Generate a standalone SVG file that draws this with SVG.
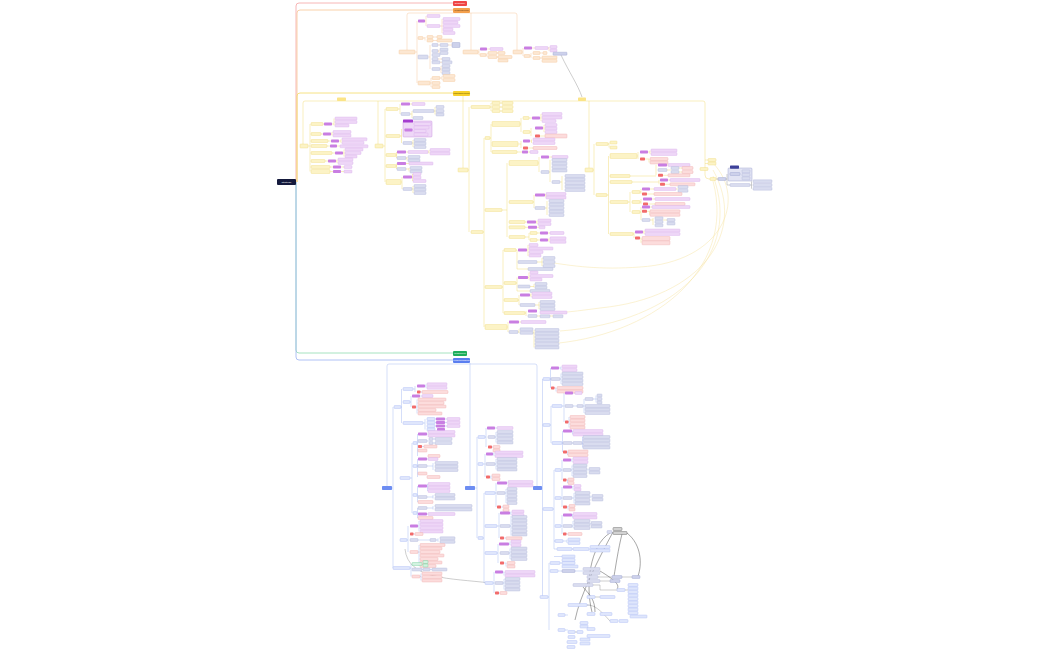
<svg xmlns="http://www.w3.org/2000/svg" width="1050" height="650" viewBox="0 0 1050 650">
<style>
.P,.PL,.G,.GM,.R,.RL,.O,.Y,.B,.GR,.DG{height:3px;rx:.7px;ry:.7px;stroke-width:.35}
.h4{height:4px}.h5{height:5px}
.P{fill:#c97ee2}.PL{fill:#eed6f7;stroke:#d6aceb}.G{fill:#d9dcef;stroke:#aab0d6}.GM{fill:#cdd1eb;stroke:#8f97c8}
.R{fill:#f26b6b}.RL{fill:#fcdcdc;stroke:#efa6a6}.O{fill:#fce7d2;stroke:#f3be8b}.Y{fill:#fcf3c6;stroke:#eed670}
.B{fill:#dfe6fc;stroke:#a3b5f2}.GR{fill:#d2f2e0;stroke:#5fca8e}.DG{fill:#d2d2d2;stroke:#444}
.c{fill:none;stroke-width:.5}.co{stroke:#f6c9a0}.cy{stroke:#f2dc7c}.cb{stroke:#abbdf3}.cg{stroke:#9c9c9c}.ck{stroke:#3a3a3a;stroke-width:.45}.cyl{stroke:#f6e39c;stroke-width:.45}
.tr{fill:none;stroke-width:.8}
.t{font-family:"Liberation Sans",Arial,sans-serif;font-size:2.5px;text-anchor:middle;fill:#fff}
</style>
<rect width="1050" height="650" fill="#fff"/>
<g id="connectors">
<path class="tr" stroke="#f5a3a3" d="M296,182V6Q296,3 299,3H453"/>
<path class="tr" stroke="#f7c594" d="M297,182V13Q297,10 300,10H453"/>
<path class="tr" stroke="#f4da66" d="M297,182V96Q297,93 300,93H453"/>
<path class="tr" stroke="#8fdcb0" d="M296,182V350Q296,353 299,353H453"/>
<path class="tr" stroke="#9cb3f3" d="M296,182V357Q296,360 299,360H453"/>
<path class="c co" d="M407,50V15Q407,13 409,13H515Q517,13 517,15V50M471,13V50"/>
<path class="c co" d="M415,52H417M417,21V83M425,21H426M426,16V26M440,26H442M442,19V33M423,38H425M425,37V40.5M433,37H437M433,40.5H437M428,57H430M430,45V69M438,45H440M448,45H452M438,51H439M439,49.5V53M438,59H442M440,62.3H442M440,69H441M441,66V73M430,83H431M431,78V87M440,78H442M442,76V80M478,52H479M479,49V55M487,49H490M486,55H487M487,53V57M497,53H498M497,57H498M522,52H523M523,48V56M532,48H535M548,48H549M549,47V51M530,56H531M531,53V58M540,53H543M540,58H542"/>
<path class="c cg" d="M561,55C569,72 578,85 582,97"/>
<path class="c cy" d="M303,144V103Q303,101 305,101H703Q705,101 705,103V175Q705,179 709,179H710M378,101V144M463,96V168M589,101V168M705,160H708M705,163.5H708M704,169H705"/>
<path class="c cy" d="M308,146H310M310,124V171.5M323,124H324M332,124H334M334,118.5V125.5M321,134H323M331,134H332M332,132V135.5M328,141H331M339,141H341M341,139.3V142.8M327,146H330M337,146H340M332,153H335M343,153H344M344,149.5V156.5M325,161H328M336,161H337M337,159.5V163M330,167H333M341,167H344M330,171.5H333M341,171.5H344"/>
<path class="c cy" d="M383,146H385M385,109V182M398,109H400M400,104V114M410,104H412M410,114H412M412,111V118M434,111H435M435,107V114.5M400,136H401.5M401.5,129V143M412.5,130H413.5M413.5,124V134.5M412,143H413M413,140V147M396,155H396.5M396.5,152V158M406,152H408M428,152H429M429,150V153.5M406,158H407M407,157V160.5M396,166H396.5M396.5,163.5V169M406,163.5H409M406,169H409M409,168V171.5M401,182H402M402,177V189M412,177H412.5M412.5,174V181M412,189H413M413,186V193"/>
<path class="c cy" d="M468,170H469M469,107V232M490,107H491M491,103V111M500,103H502M500,107H502M500,111H502M483,232H484M484,138V327M490,138H491M491,124V152M520,124H521M521,118V132M529,118H532M540,118H541M541,114V121M530,132H531M531,128V136M543,128H544M544,125V132M540,136H545M518,144H521M521,141V148M530,141H531.5M531.5,139.5V143M528,148H533M517,152H522M528,152H530M502,210H507M507,163V237M538,163H539M539,157V172M549,157H552M549,172H550M550,160V182M560,182H562M562,176V190M533,202H534M534,195V208M545,195H546M546,194V197.5M545,208H547M547,201V215M525,222H527M536,222H537M537,220.5V224M525,227.3H528M537,227.3H539M525,237H529M529,233V240M537,233H540M548,233H550M537,240H540M548,240H549M549,238.3V241.8M502,287H503M503,250V313M516,250H517M517,250V269H528M527,250H528M528,245V256M537,262H542M542,258V266M516,283H517M517,277.5V291H530M528,277.5H529M529,272.5V279.5M530,286.5H534M534,284V287.5M518,300H519M519,295V305M530,295H531M531,293.5V297M535,305H539M539,302V309M525,313H526M526,311V316M537,316H540M550,316H553M507,327H508M508,322V332M519,322H521M518,332H519M519,329.3V332.8M533,332.8H534M534,330V347.5"/>
<path class="c cy" d="M593,170H594M594,144V195M608,144H609M609,142.5V147.5M607,195H608.5M608.5,156V234M637,156H638M638,152V159M648,152H650M650,150.5V154M645,159H649M649,159V162.5M630,176H656M656,165V175.3M667,165H668M667,170H671M679,168H682M679,172H682M663,175.3H668M632,182H659M659,180V184.3M668,180H670M665,184.3H670M628,202H630M630,192V212M640,192H641M641,189V194M650,189H654M647,194H654M676,189H678M640,202H641M641,199V204M652,199H655M648,204H655M640,212H641M641,207V220M650,207H652M647,211.3H649.5M649.5,211.3V214.8M650,220H653M653,218V225M663,220H667M633,234H634M634,232V238M643,232H644M644,230.5V234M640,238H641M641,238V242.8"/>
<path class="c cg" d="M716,179H718M726,179H727M727,174V185H730M740,174H741M741,171.3V178.3M750,185H751.5M751.5,181.3V188.7"/>
<path class="c cyl" d="M713,163C748,200 722,262 640,267C600,270 572,266 548,262M713,170C748,232 702,298 600,308C585,310 570,312 556,313M713,176C742,252 680,322 560,331M713,181C737,272 650,337 548,344"/>
<path class="c cb" d="M387,486V366Q387,364 389,364H535Q537,364 537,366V486M470,363V486"/>
<path class="c cb" d="M392,488H393M393,407V568M401,407H401.5M401.5,389V423M413,389H415M415,386V392M425,386H426M426,384.3V387.8M420.5,392H422M410,402H411M411,396V407M420,396H422M416,407H417M417,399.5V413.5M423,423H425M425,419V429.5M435,419H436M435,422.5H436M435,426H436M445,419H447M445,422.5H447M445,426H447M410,478H412M412,443V513M417,443H417.5M417.5,434V456M427,434H428M427,441H429M433,439H435M433,443H435M422,446.5H424M417,466H417.5M417.5,459V477M427,459H428M427,466H433M433,463V470M417,495H417.5M417.5,486V502M427,486H427.5M427.5,484V491M427,497H433M433,495V498.5M417,513H417.5M417.5,508V518M427,508H433M433,506V509.5M427,514H428M407,540H408M408,526V552M418,526H419M419,521V531.5M413.5,534H415M418,540H430M436,540H438M438,538.3V541.8M418,552H419M419,545V566M410,568H411M411,564V576.5M422,564H423M422,569.5H432M420,576.5H421M421,573.5V580.5"/>
<path class="c cg" d="M405,549C408,580 450,578 490,583"/>
<path class="c cb" d="M475,488H477M477,437V538M485,437H486M486,428V447M495,428H497M495,437H496M496,432V442.5M492,447H493M483,464H485M485,454V477M493,454H494M494,452.5V456M495,464H496M496,459V469.5M490,477H491M491,475.5V479M483,538H484M484,493V583M495,493H496M496,483V507M507,483H508M505,493H506M506,489V503M501,507H503M497,526H499M499,513V538M510,513H511M511,511.5V515M510,526H511M511,516V535.5M504,538H506M497,553H498M498,544V563M509,544H510M510,541.5V545M509,553H510M510,548.5V559M504,563H506M506,563V566.5M493,583H494M494,572V593M503,572H504M504,572V575.5M503,583H504M504,579V589.5M499,593H500"/>
<path class="c cb" d="M542,488H542.5M542.5,379V597M550,379H550.5M550.5,368V388M559,368H561M561,366.5V370M560,379H561M561,373.5V384M554.5,388H556M556,388V391.5M550,425H551M551,406V443M562,406H564M564,393V422M573,393H575M573,406H577M583,406H584M584,399V413M593,399H596M596,395.5V402.5M568.5,422H569M569,417V427.5M562,443H562.5M562.5,431V452M572,431H572.5M572.5,431V434.5M572,443H573M582,443H582.5M582.5,437V447.5M567,452H567.5M567.5,451.5V455M553,509H554M554,470V549M561,470H562M562,460V480M571,460H572M572,458.5V462M571,470H572M572,465.5V476M587,470H589M566.5,480H567.5M567.5,479.5V483M561,498H562M562,487V507M572,487H573M573,486V489.5M572,498H574M574,493V503.5M590,497H592M567,507H568M568,506V509.5M561,526H562M562,515V534M572,515H572.5M572.5,514V517.5M572,526H573M573,521V528M590,524H591M566.5,534H568M554,541H555M563,541H567M567,539.5V543M554,549H557M572,549H573M589,549H590M554,556.5H562M548,597H549M549,563V630M560,563H562M558,571H562M575,571H583M565,615H568M565,630H568M587,605H590"/>
<path class="c cg" d="M598,577H612M600,581H610M622,577H632M593,585H600V590H617M625,590H628M595,597H600M587,605C595,605 600,610 610,621M575,632H577"/>
<path class="c ck" d="M613,532C598,560 580,595 575,620M610,533C590,545 585,585 592,612M627,533C642,545 642,565 638,576M622,534C618,550 616,565 614,576M600,571C615,580 620,585 617,589M583,587C590,595 595,600 595,612"/>
</g>
<g id="root"><rect x="277" y="179" width="19" height="6" rx="1" fill="#151a3d"/><text class="t" x="286.5" y="182.9">Strategie</text></g>
<g id="top-red"><rect x="453" y="1" width="14" height="5" rx="1" fill="#ef4545"/><text class="t" x="460" y="4.4" style="font-size:2.2px">Zielgruppe</text></g>
<g id="top-orange"><rect x="453" y="8" width="17" height="5" rx="1" fill="#f4a04c"/><text class="t" x="461.5" y="11.4" style="font-size:2.2px;fill:#5a3510">Positionierung</text></g>
<g id="top-yellow"><rect x="453" y="91" width="17" height="5" rx="1" fill="#f7d12c"/><text class="t" x="461.5" y="94.4" style="font-size:2.2px;fill:#5a4a00">Maßnahmenplan</text></g>
<g id="top-green"><rect x="453" y="351" width="14" height="5" rx="1" fill="#1fae5c"/><text class="t" x="460" y="354.4" style="font-size:2.2px">Ressourcen</text></g>
<g id="top-blue"><rect x="453" y="358" width="17" height="5" rx="1" fill="#5a7ef0"/><text class="t" x="461.5" y="361.4" style="font-size:2.2px">Umsetzungsplan</text></g>
<g id="orange-nodes">
<g id="oA"><rect class="O h4" x="399" y="50" width="16"/></g>
<g id="oB"><rect class="O h4" x="463" y="50" width="15"/></g>
<g id="oC"><rect class="O h4" x="513" y="50" width="9"/></g>
<g id="oA1"><rect class="P" x="418" y="19.5" width="7"/><rect class="PL" x="427" y="14.5" width="13"/><rect class="PL" x="427" y="24.5" width="13"/><rect class="PL" x="443" y="17.5" width="17"/><rect class="PL" x="443" y="21" width="15"/><rect class="PL" x="443" y="24.5" width="17"/><rect class="PL" x="443" y="28" width="10"/><rect class="PL" x="443" y="31.5" width="12"/></g>
<g id="oA2"><rect class="O" x="418" y="36.5" width="5"/><rect class="O" x="427" y="35.5" width="6"/><rect class="O" x="427" y="39" width="6"/><rect class="O" x="437" y="35.5" width="5"/><rect class="O" x="437" y="39" width="15"/></g>
<g id="oA3"><rect class="G h4" x="418" y="55" width="10"/><rect class="G" x="432" y="43.5" width="6"/><rect class="G" x="432" y="49.5" width="6"/><rect class="G" x="432" y="53.5" width="8"/><rect class="G" x="432" y="57.5" width="6"/><rect class="G" x="432" y="60.8" width="8"/><rect class="G" x="432" y="67.5" width="8"/><rect class="G" x="440" y="43.5" width="8"/><rect class="GM h5" x="452" y="42.5" width="8"/><rect class="G" x="440" y="48" width="8"/><rect class="G" x="440" y="51.5" width="8"/><rect class="G" x="442" y="57.5" width="8"/><rect class="G" x="442" y="60.8" width="10"/><rect class="G" x="442" y="64.5" width="8"/><rect class="G" x="442" y="68" width="8"/><rect class="G" x="442" y="71.5" width="8"/></g>
<g id="oA4"><rect class="O h4" x="418" y="81" width="12"/><rect class="O" x="432" y="76.5" width="8"/><rect class="O" x="432" y="81.5" width="8"/><rect class="O" x="432" y="85.5" width="8"/><rect class="O" x="443" y="74.5" width="12"/><rect class="O" x="443" y="78.5" width="12"/></g>
<g id="oB1"><rect class="P" x="480" y="47.5" width="7"/><rect class="PL" x="490" y="47.5" width="13"/><rect class="O" x="480" y="53.5" width="6"/><rect class="O" x="488" y="51.5" width="9"/><rect class="O" x="488" y="55.5" width="9"/><rect class="O" x="498" y="51.5" width="7"/><rect class="O" x="498" y="55.5" width="14"/><rect class="O" x="498" y="59" width="10"/></g>
<g id="oC1"><rect class="P" x="524" y="46.5" width="8"/><rect class="PL" x="535" y="46.5" width="13"/><rect class="PL" x="550" y="45.5" width="7"/><rect class="PL" x="550" y="49" width="7"/><rect class="O" x="524" y="54.5" width="6"/><rect class="O" x="533" y="51.5" width="7"/><rect class="O" x="533" y="56.5" width="7"/><rect class="O" x="543" y="51.5" width="4"/><rect class="O" x="542" y="56" width="15"/><rect class="O" x="542" y="59.3" width="15"/></g>
<g id="oGray"><rect class="GM" x="553" y="52.2" width="14"/></g>
</g>
<g id="yellow-nodes">
<g id="yTagA"><rect x="337" y="97.5" width="9" height="3.5" rx=".7" fill="#fbe487"/></g>
<g id="yTagB"><rect x="578" y="97.5" width="8" height="3.5" rx=".7" fill="#fbe487"/></g>
<g id="yL1"><rect class="Y h4" x="300" y="144" width="8"/></g>
<g id="yL1c"><rect class="Y" x="311" y="122.5" width="12"/><rect class="P" x="324" y="122.5" width="8"/><rect class="PL" x="335" y="117" width="22"/><rect class="PL" x="335" y="120.5" width="22"/><rect class="PL" x="335" y="124" width="14"/>
<rect class="Y" x="311" y="132.5" width="10"/><rect class="P" x="323" y="132.5" width="8"/><rect class="PL" x="333" y="130.5" width="18"/><rect class="PL" x="333" y="134" width="18"/>
<rect class="Y" x="311" y="139.5" width="17"/><rect class="P" x="331" y="139.5" width="8"/><rect class="PL" x="342" y="137.8" width="25"/><rect class="PL" x="342" y="141.3" width="22"/>
<rect class="Y" x="311" y="144.5" width="16"/><rect class="P" x="330" y="144.5" width="7"/><rect class="PL" x="340" y="144.8" width="28"/>
<rect class="Y" x="311" y="151.5" width="21"/><rect class="P" x="335" y="151.5" width="8"/><rect class="PL" x="345" y="148" width="18"/><rect class="PL" x="345" y="151.5" width="16"/><rect class="PL" x="345" y="155" width="12"/>
<rect class="Y" x="311" y="159.5" width="14"/><rect class="P" x="328" y="159.5" width="8"/><rect class="PL" x="338" y="158" width="15"/><rect class="PL" x="338" y="161.5" width="15"/>
<rect class="Y" x="311" y="165.5" width="19"/><rect class="P" x="333" y="165.5" width="8"/><rect class="PL" x="344" y="165.5" width="8"/>
<rect class="Y h4" x="311" y="169.5" width="19"/><rect class="P" x="333" y="170" width="8"/><rect class="PL" x="344" y="170" width="8"/></g>
<g id="yL2"><rect class="Y h4" x="375" y="144" width="8"/></g>
<g id="yL2c"><rect class="Y" x="386" y="107.5" width="12"/><rect class="P" x="401" y="102.5" width="9"/><rect class="PL" x="412" y="102.5" width="13"/><rect class="G" x="401" y="112.5" width="9"/><rect class="G" x="413" y="109.5" width="21"/><rect class="G" x="413" y="116.5" width="10"/><rect class="G" x="436" y="105.5" width="8"/><rect class="G" x="436" y="109.5" width="8"/><rect class="G" x="436" y="113" width="8"/>
<rect class="Y" x="386" y="134.5" width="14"/>
<rect x="403" y="121" width="29" height="16" rx="1" fill="#eed7f7" stroke="#c083dc" stroke-width=".4"/><rect x="403" y="119.5" width="10" height="3" rx=".6" fill="#a43ccf"/>
<rect class="P" x="404.5" y="128.5" width="8"/><rect class="PL" x="414" y="122.5" width="17"/><rect class="PL" x="414" y="126" width="15"/><rect class="PL" x="414" y="129.5" width="12"/><rect class="PL" x="414" y="133" width="14"/>
<rect class="G" x="403" y="141.5" width="9"/><rect class="G" x="414" y="138.5" width="12"/><rect class="G" x="414" y="142" width="12"/><rect class="G" x="414" y="145.5" width="12"/>
<rect class="Y" x="386" y="153.5" width="10"/><rect class="P" x="397" y="150.5" width="9"/><rect class="PL" x="408" y="150.5" width="20"/><rect class="PL" x="430" y="148.5" width="20"/><rect class="PL" x="430" y="152" width="20"/><rect class="G" x="397" y="156.5" width="9"/><rect class="G" x="408" y="155.5" width="12"/><rect class="G" x="408" y="159" width="12"/>
<rect class="Y" x="386" y="164.5" width="10"/><rect class="P" x="397" y="162" width="9"/><rect class="PL" x="409" y="162" width="24"/><rect class="G" x="397" y="167.5" width="9"/><rect class="G" x="410" y="166.5" width="12"/><rect class="G" x="410" y="170" width="12"/>
<rect class="Y h5" x="386" y="179.5" width="15"/><rect class="P" x="403" y="175.5" width="9"/><rect class="PL" x="413" y="172.5" width="8"/><rect class="PL" x="413" y="176" width="8"/><rect class="PL" x="413" y="179.5" width="13"/><rect class="G" x="403" y="187.5" width="9"/><rect class="G" x="414" y="184.5" width="12"/><rect class="G" x="414" y="188" width="12"/><rect class="G" x="414" y="191.5" width="12"/></g>
<g id="yL3"><rect class="Y h4" x="458" y="168" width="10"/></g>
<g id="yL3a"><rect class="Y" x="471" y="105.5" width="19"/><rect class="Y" x="492" y="101.5" width="8"/><rect class="Y" x="492" y="105.5" width="8"/><rect class="Y" x="492" y="109.5" width="8"/><rect class="Y" x="502" y="101.5" width="11"/><rect class="Y" x="502" y="105.5" width="11"/><rect class="Y" x="502" y="109.5" width="11"/>
<rect class="Y" x="471" y="230.5" width="12"/></g>
<g id="yL3u1"><rect class="Y" x="485" y="136.5" width="5"/><rect class="Y h5" x="492" y="121.5" width="28"/><rect class="Y" x="523" y="116.5" width="6"/><rect class="P" x="532" y="116.5" width="8"/><rect class="PL" x="542" y="112.5" width="20"/><rect class="PL" x="542" y="116" width="20"/><rect class="PL" x="542" y="119.5" width="14"/><rect class="Y" x="523" y="130.5" width="7"/><rect class="P" x="535" y="126.5" width="8"/><rect class="PL" x="545" y="123.5" width="12"/><rect class="PL" x="545" y="127" width="12"/><rect class="PL" x="545" y="130.5" width="12"/><rect class="R" x="535" y="134.5" width="5"/><rect class="RL h4" x="545" y="134" width="22"/>
<rect class="Y h5" x="492" y="141.5" width="26"/><rect class="P" x="523" y="139.5" width="7"/><rect class="PL" x="533" y="138" width="22"/><rect class="PL" x="533" y="141.5" width="22"/><rect class="R" x="523" y="146.5" width="5"/><rect class="RL" x="533" y="146.5" width="24"/>
<rect class="Y" x="492" y="150.5" width="25"/><rect class="P" x="522" y="150.5" width="6"/><rect class="PL" x="530" y="150.5" width="8"/></g>
<g id="yL3u2"><rect class="Y" x="485" y="208.5" width="17"/><rect class="Y h5" x="509" y="160.5" width="29"/><rect class="P" x="541" y="155.5" width="8"/><rect class="PL" x="552" y="155.5" width="16"/><rect class="G" x="541" y="170.5" width="8"/><rect class="G" x="552" y="158.5" width="15"/><rect class="G" x="552" y="162" width="15"/><rect class="G" x="552" y="165.5" width="15"/><rect class="G" x="552" y="169" width="15"/><rect class="G" x="552" y="180.5" width="8"/><rect class="G" x="565" y="174.5" width="20"/><rect class="G" x="565" y="178" width="20"/><rect class="G" x="565" y="181.5" width="20"/><rect class="G" x="565" y="185" width="20"/><rect class="G" x="565" y="188.5" width="20"/>
<rect class="Y" x="509" y="200.5" width="24"/><rect class="P" x="535" y="193.5" width="10"/><rect class="PL" x="546" y="192.5" width="20"/><rect class="PL" x="546" y="196" width="20"/><rect class="G" x="535" y="206.5" width="10"/><rect class="G" x="549" y="199.5" width="15"/><rect class="G" x="549" y="203" width="15"/><rect class="G" x="549" y="206.5" width="15"/><rect class="G" x="549" y="210" width="15"/><rect class="G" x="549" y="213.5" width="15"/>
<rect class="Y" x="509" y="220.5" width="16"/><rect class="P" x="527" y="220.5" width="9"/><rect class="PL" x="538" y="219" width="13"/><rect class="PL" x="538" y="222.5" width="13"/>
<rect class="Y" x="509" y="225.8" width="16"/><rect class="P" x="528" y="225.8" width="9"/><rect class="PL" x="539" y="225.8" width="6"/>
<rect class="Y" x="509" y="235.5" width="16"/><rect class="Y" x="530" y="231.5" width="7"/><rect class="P" x="540" y="231.5" width="8"/><rect class="PL" x="550" y="231.5" width="14"/><rect class="Y" x="530" y="238.5" width="7"/><rect class="P" x="540" y="238.5" width="8"/><rect class="PL" x="550" y="236.8" width="16"/><rect class="PL" x="550" y="240.3" width="16"/></g>
<g id="yL3u3"><rect class="Y" x="485" y="285.5" width="17"/><rect class="Y" x="504" y="248.5" width="12"/><rect class="P" x="518" y="248.5" width="9"/><rect class="PL" x="529" y="243.5" width="9"/><rect class="PL" x="529" y="247" width="24"/><rect class="PL" x="529" y="250.5" width="14"/><rect class="PL" x="529" y="254" width="12"/><rect class="G" x="518" y="260.5" width="19"/><rect class="G" x="543" y="256.5" width="12"/><rect class="G" x="543" y="260.5" width="12"/><rect class="G" x="543" y="264.5" width="12"/><rect class="G" x="528" y="267.5" width="25"/>
<rect class="Y" x="504" y="281.5" width="12"/><rect class="P" x="518" y="276" width="10"/><rect class="PL" x="530" y="271" width="8"/><rect class="PL" x="530" y="274.5" width="23"/><rect class="PL" x="530" y="278" width="12"/><rect class="G" x="518" y="285" width="12"/><rect class="G" x="535" y="282.5" width="12"/><rect class="G" x="535" y="286" width="12"/><rect class="G" x="530" y="289.5" width="20"/>
<rect class="Y" x="504" y="298.5" width="14"/><rect class="P" x="520" y="293.5" width="10"/><rect class="PL" x="532" y="292" width="20"/><rect class="PL" x="532" y="295.5" width="20"/><rect class="G" x="520" y="303.5" width="15"/><rect class="G" x="540" y="300.5" width="15"/><rect class="G" x="540" y="304" width="15"/><rect class="G" x="540" y="307.5" width="15"/>
<rect class="Y" x="504" y="311.5" width="21"/><rect class="P" x="528" y="309.5" width="9"/><rect class="PL" x="540" y="311" width="27"/><rect class="G" x="528" y="314.5" width="9"/><rect class="G" x="540" y="314.8" width="10"/><rect class="G" x="553" y="314.8" width="10"/></g>
<g id="yL3u4"><rect class="Y h5" x="485" y="324.5" width="22"/><rect class="P" x="509" y="320.5" width="10"/><rect class="PL" x="521" y="320.5" width="25"/><rect class="G" x="509" y="330.5" width="9"/><rect class="G" x="520" y="327.8" width="13"/><rect class="G" x="520" y="331.3" width="13"/><rect class="G" x="535" y="328.5" width="24"/><rect class="G" x="535" y="332" width="24"/><rect class="G" x="535" y="335.5" width="24"/><rect class="G" x="535" y="339" width="24"/><rect class="G" x="535" y="342.5" width="24"/><rect class="G" x="535" y="346" width="24"/></g>
<g id="yL4"><rect class="Y h4" x="585" y="168" width="8"/></g>
<g id="yL4c"><rect class="Y" x="596" y="142.5" width="12"/><rect class="Y" x="610" y="141" width="7"/><rect class="Y" x="610" y="146" width="7"/>
<rect class="Y" x="596" y="193.5" width="11"/>
<rect class="Y h5" x="610" y="153.5" width="27"/><rect class="P" x="640" y="150.5" width="8"/><rect class="PL" x="651" y="149" width="26"/><rect class="PL" x="651" y="152.5" width="26"/><rect class="R" x="640" y="157.5" width="5"/><rect class="RL" x="650" y="157.5" width="18"/><rect class="RL" x="650" y="161" width="18"/>
<rect class="Y" x="610" y="174.5" width="20"/><rect class="P" x="658" y="163.5" width="9"/><rect class="PL" x="668" y="163.5" width="22"/><rect class="G" x="658" y="168.5" width="9"/><rect class="G" x="671" y="166.5" width="8"/><rect class="G" x="671" y="170.5" width="8"/><rect class="RL" x="682" y="166.5" width="11"/><rect class="RL" x="682" y="170.5" width="11"/><rect class="R" x="658" y="173.8" width="5"/><rect class="RL" x="668" y="173.8" width="22"/>
<rect class="Y" x="610" y="180.5" width="22"/><rect class="P" x="660" y="178.5" width="8"/><rect class="PL" x="670" y="178.5" width="30"/><rect class="R" x="660" y="182.8" width="5"/><rect class="RL" x="670" y="182.8" width="25"/>
<rect class="Y" x="610" y="200.5" width="18"/><rect class="Y" x="632" y="190.5" width="8"/><rect class="Y" x="632" y="200.5" width="8"/><rect class="Y" x="632" y="210.5" width="8"/>
<rect class="P" x="642" y="187.5" width="8"/><rect class="PL" x="654" y="187.5" width="22"/><rect class="G" x="678" y="185.5" width="10"/><rect class="G" x="678" y="189.2" width="10"/><rect class="R" x="642" y="192.5" width="5"/><rect class="RL" x="654" y="192.5" width="28"/>
<rect class="P" x="643" y="197.5" width="9"/><rect class="PL" x="655" y="197.5" width="35"/><rect class="R" x="643" y="202.5" width="5"/><rect class="RL" x="655" y="202.5" width="30"/>
<rect class="P" x="642" y="205.5" width="8"/><rect class="PL" x="652" y="205.5" width="38"/><rect class="R" x="642" y="209.8" width="5"/><rect class="RL" x="650" y="209.8" width="30"/><rect class="RL" x="650" y="213.3" width="30"/><rect class="G" x="642" y="218.5" width="8"/><rect class="G" x="655" y="216.8" width="8"/><rect class="G" x="655" y="220.3" width="8"/><rect class="G" x="655" y="223.8" width="8"/><rect class="G" x="667" y="218.5" width="8"/><rect class="G" x="667" y="222" width="8"/>
<rect class="Y" x="610" y="232.5" width="23"/><rect class="P" x="635" y="230.5" width="8"/><rect class="PL" x="645" y="229" width="35"/><rect class="PL" x="645" y="232.5" width="35"/><rect class="R" x="635" y="236.5" width="5"/><rect class="RL h4" x="642" y="236.5" width="28"/><rect class="RL h4" x="642" y="240.8" width="28"/></g>
<g id="yL5"><rect class="Y" x="708" y="158.5" width="8"/><rect class="Y" x="708" y="162" width="8"/><rect class="Y" x="700" y="167.5" width="8"/><rect class="Y" x="710" y="177.5" width="6"/></g>
<g id="yL5c"><rect class="GM" x="718" y="177.5" width="8"/><rect x="728" y="168" width="24" height="13" rx="1" fill="#e2e4f4" stroke="#8d93c6" stroke-width=".4"/><rect x="730" y="165.5" width="9" height="3.2" rx=".6" fill="#3d4099"/><rect class="GM" x="730" y="172.5" width="10"/><rect class="G" x="742" y="169.8" width="8"/><rect class="G" x="742" y="173.3" width="8"/><rect class="G" x="742" y="176.8" width="8"/><rect class="G" x="730" y="183.5" width="20"/><rect class="G" x="753" y="179.8" width="19"/><rect class="G" x="753" y="183.5" width="19"/><rect class="G" x="753" y="187.2" width="19"/></g>
</g>
<g id="blue-nodes">
<g id="bB1"><rect x="382" y="486" width="10" height="4" rx=".7" fill="#6d8df2"/></g>
<g id="bB2"><rect x="465" y="486" width="10" height="4" rx=".7" fill="#6d8df2"/></g>
<g id="bB3"><rect x="533" y="486" width="9" height="4" rx=".7" fill="#6d8df2"/></g>
<g id="bB1a"><rect class="B" x="394" y="405.5" width="7"/><rect class="B" x="403" y="387.5" width="10"/><rect class="P" x="417" y="384.5" width="8"/><rect class="PL" x="427" y="382.8" width="20"/><rect class="PL" x="427" y="386.3" width="20"/><rect class="R" x="417" y="390.5" width="3.5"/><rect class="RL" x="422" y="390.5" width="26"/>
<rect class="B" x="403" y="400.5" width="7"/><rect class="P" x="412" y="394.5" width="8"/><rect class="PL" x="422" y="394.5" width="11"/><rect class="R" x="412" y="405.5" width="4"/><rect class="RL" x="418" y="398" width="28"/><rect class="RL" x="418" y="401.5" width="26"/><rect class="RL" x="418" y="405" width="28"/><rect class="RL" x="418" y="408.5" width="18"/><rect class="RL" x="418" y="412" width="24"/>
<rect class="B" x="403" y="421.5" width="20"/><rect class="B" x="427" y="417.5" width="8"/><rect class="B" x="427" y="421" width="8"/><rect class="B" x="427" y="424.5" width="8"/><rect class="B" x="427" y="428" width="8"/><rect class="P" x="436" y="417.5" width="9"/><rect class="P" x="436" y="421" width="9"/><rect class="P" x="436" y="424.5" width="9"/><rect class="PL" x="447" y="417.5" width="13"/><rect class="PL" x="447" y="421" width="13"/><rect class="PL" x="447" y="424.5" width="13"/><rect class="P" x="437" y="428" width="8"/></g>
<g id="bB1b"><rect class="B" x="400" y="476.5" width="10"/><rect class="B" x="413" y="441.5" width="4"/><rect class="B" x="413" y="464.5" width="4"/><rect class="B" x="413" y="493.5" width="4"/><rect class="B" x="413" y="511.5" width="4"/>
<rect class="P" x="418" y="432.5" width="9"/><rect class="PL" x="428" y="430.5" width="27"/><rect class="PL" x="428" y="434" width="27"/><rect class="G" x="418" y="439.5" width="9"/><rect class="G" x="429" y="437.5" width="4"/><rect class="G" x="429" y="441.5" width="4"/><rect class="G" x="435" y="437.5" width="17"/><rect class="G" x="435" y="441.5" width="17"/><rect class="R" x="418" y="445" width="4"/><rect class="RL" x="424" y="445" width="13"/><rect class="RL" x="418" y="449" width="9"/><rect class="RL" x="428" y="454.5" width="12"/>
<rect class="P" x="418" y="457.5" width="9"/><rect class="PL" x="428" y="457.5" width="10"/><rect class="G" x="418" y="464.5" width="9"/><rect class="G" x="435" y="461.5" width="23"/><rect class="G" x="435" y="465" width="23"/><rect class="G" x="435" y="468.5" width="23"/><rect class="RL" x="418" y="472" width="9"/><rect class="RL" x="427" y="475.5" width="13"/>
<rect class="P" x="418" y="484.5" width="9"/><rect class="PL" x="428" y="482.5" width="22"/><rect class="PL" x="428" y="486" width="22"/><rect class="PL" x="428" y="489.5" width="22"/><rect class="G" x="418" y="495.5" width="9"/><rect class="G" x="435" y="493.5" width="20"/><rect class="G" x="435" y="497" width="20"/><rect class="RL" x="418" y="500.5" width="15"/>
<rect class="G" x="418" y="506.5" width="9"/><rect class="G" x="435" y="504.5" width="37"/><rect class="G" x="435" y="508" width="37"/><rect class="P" x="418" y="512.5" width="9"/><rect class="PL" x="428" y="512.5" width="27"/><rect class="RL" x="418" y="516.5" width="15"/></g>
<g id="bB1c"><rect class="B" x="400" y="538.5" width="7"/><rect class="P" x="410" y="524.5" width="8"/><rect class="PL" x="420" y="519.5" width="23"/><rect class="PL" x="420" y="523" width="23"/><rect class="PL" x="420" y="526.5" width="23"/><rect class="PL" x="420" y="530" width="23"/><rect class="R" x="410" y="532.5" width="3.5"/><rect class="RL" x="415" y="532.5" width="8"/><rect class="G" x="410" y="538.5" width="8"/><rect class="G" x="430" y="538.5" width="6"/><rect class="G" x="440" y="536.8" width="15"/><rect class="G" x="440" y="540.3" width="15"/><rect class="RL" x="410" y="550.5" width="8"/><rect class="RL" x="420" y="543.5" width="25"/><rect class="RL" x="420" y="547" width="22"/><rect class="RL" x="420" y="550.5" width="20"/><rect class="RL" x="420" y="554" width="24"/><rect class="RL" x="420" y="557.5" width="18"/><rect class="RL" x="420" y="561" width="22"/><rect class="RL" x="420" y="564.5" width="16"/></g>
<g id="bB1d"><rect class="B" x="393" y="566.5" width="17"/><rect class="GR" x="412" y="562.5" width="10"/><rect class="GR" x="423" y="560.5" width="5"/><rect class="GR" x="423" y="564" width="5"/><rect class="G" x="412" y="568" width="10"/><rect class="G" x="423" y="568" width="7"/><rect class="G" x="432" y="568" width="15"/><rect class="RL" x="412" y="575" width="8"/><rect class="RL" x="422" y="572" width="20"/><rect class="RL" x="422" y="575.5" width="20"/><rect class="RL" x="422" y="579" width="20"/></g>
<g id="bB2a"><rect class="B" x="478" y="435.5" width="7"/><rect class="P" x="487" y="426.5" width="8"/><rect class="PL" x="497" y="426.5" width="16"/><rect class="G" x="488" y="435.5" width="7"/><rect class="G" x="497" y="430.5" width="16"/><rect class="G" x="497" y="434" width="16"/><rect class="G" x="497" y="437.5" width="16"/><rect class="G" x="497" y="441" width="16"/><rect class="R" x="488" y="445.5" width="4"/><rect class="RL" x="493" y="445.5" width="7"/><rect class="RL" x="493" y="449" width="7"/>
<rect class="B" x="478" y="462.5" width="5"/><rect class="P" x="486" y="452.5" width="7"/><rect class="PL" x="495" y="451" width="28"/><rect class="PL" x="495" y="454.5" width="28"/><rect class="G" x="486" y="462.5" width="9"/><rect class="G" x="497" y="457.5" width="20"/><rect class="G" x="497" y="461" width="20"/><rect class="G" x="497" y="464.5" width="20"/><rect class="G" x="497" y="468" width="20"/><rect class="R" x="486" y="475.5" width="4"/><rect class="RL" x="492" y="474" width="8"/><rect class="RL" x="492" y="477.5" width="8"/>
<rect class="B" x="478" y="536.5" width="5"/></g>
<g id="bB2b"><rect class="B" x="485" y="491.5" width="10"/><rect class="P" x="497" y="481.5" width="10"/><rect class="PL" x="508" y="480.5" width="25"/><rect class="PL" x="508" y="484" width="25"/><rect class="G" x="497" y="491.5" width="8"/><rect class="G" x="507" y="487.5" width="10"/><rect class="G" x="507" y="491" width="10"/><rect class="G" x="507" y="494.5" width="10"/><rect class="G" x="507" y="498" width="10"/><rect class="G" x="507" y="501.5" width="10"/><rect class="R" x="497" y="505.5" width="4"/><rect class="RL" x="503" y="505" width="6"/><rect class="RL" x="503" y="508.5" width="6"/>
<rect class="B" x="485" y="524.5" width="12"/><rect class="P" x="500" y="511.5" width="10"/><rect class="PL" x="512" y="510" width="12"/><rect class="PL" x="512" y="513.5" width="12"/><rect class="G" x="500" y="524.5" width="10"/><rect class="G" x="512" y="515.5" width="15"/><rect class="G" x="512" y="519" width="15"/><rect class="G" x="512" y="522.5" width="15"/><rect class="G" x="512" y="526" width="15"/><rect class="G" x="512" y="529.5" width="15"/><rect class="G" x="512" y="533" width="15"/><rect class="R" x="500" y="536.5" width="4"/><rect class="RL" x="506" y="536.8" width="16"/>
<rect class="B" x="485" y="551.5" width="12"/><rect class="P" x="499" y="542.5" width="10"/><rect class="PL" x="511" y="540" width="10"/><rect class="PL" x="511" y="543.5" width="10"/><rect class="G" x="500" y="551.5" width="9"/><rect class="G" x="511" y="547" width="16"/><rect class="G" x="511" y="550.5" width="16"/><rect class="G" x="511" y="554" width="16"/><rect class="G" x="511" y="557.5" width="16"/><rect class="R" x="500" y="561.5" width="4"/><rect class="RL" x="507" y="561.5" width="8"/><rect class="RL" x="507" y="565" width="8"/>
<rect class="B" x="485" y="581.5" width="8"/><rect class="P" x="495" y="570.5" width="8"/><rect class="PL" x="505" y="570.5" width="30"/><rect class="PL" x="505" y="574" width="30"/><rect class="G" x="495" y="581.5" width="8"/><rect class="G" x="505" y="577.5" width="15"/><rect class="G" x="505" y="581" width="15"/><rect class="G" x="505" y="584.5" width="15"/><rect class="G" x="505" y="588" width="15"/><rect class="R" x="495" y="591.5" width="4"/><rect class="RL" x="500" y="591.5" width="7"/></g>
<g id="bB3a"><rect class="B" x="543" y="377.5" width="7"/><rect class="P" x="551" y="366.5" width="8"/><rect class="PL" x="562" y="365" width="15"/><rect class="PL" x="562" y="368.5" width="15"/><rect class="G" x="551" y="377.5" width="9"/><rect class="G" x="562" y="372" width="21"/><rect class="G" x="562" y="375.5" width="21"/><rect class="G" x="562" y="379" width="21"/><rect class="G" x="562" y="382.5" width="21"/><rect class="R" x="551" y="386.5" width="3.5"/><rect class="RL" x="557" y="386.5" width="26"/><rect class="RL" x="557" y="390" width="26"/>
<rect class="B" x="543" y="423.5" width="7"/><rect class="B" x="552" y="404.5" width="10"/><rect class="P" x="565" y="391.5" width="8"/><rect class="PL" x="575" y="391.5" width="7"/><rect class="G" x="565" y="404.5" width="8"/><rect class="G" x="577" y="404.5" width="6"/><rect class="G" x="585" y="397.5" width="8"/><rect class="G" x="597" y="394" width="5"/><rect class="G" x="597" y="397.5" width="5"/><rect class="G" x="597" y="401" width="5"/><rect class="G" x="585" y="404.5" width="25"/><rect class="G" x="585" y="408" width="25"/><rect class="G" x="585" y="411.5" width="25"/><rect class="R" x="565" y="420.5" width="3.5"/><rect class="RL" x="570" y="415.5" width="15"/><rect class="RL" x="570" y="419" width="15"/><rect class="RL" x="570" y="422.5" width="15"/><rect class="RL" x="570" y="426" width="15"/>
<rect class="B" x="552" y="441.5" width="10"/><rect class="P" x="563" y="429.5" width="9"/><rect class="PL" x="573" y="429.5" width="30"/><rect class="PL" x="573" y="433" width="30"/><rect class="G" x="563" y="441.5" width="9"/><rect class="G" x="573" y="441.5" width="9"/><rect class="G" x="583" y="435.5" width="27"/><rect class="G" x="583" y="439" width="27"/><rect class="G" x="583" y="442.5" width="27"/><rect class="G" x="583" y="446" width="27"/><rect class="R" x="563" y="450.5" width="4"/><rect class="RL" x="568" y="450" width="20"/><rect class="RL" x="568" y="453.5" width="20"/></g>
<g id="bB3b"><rect class="B" x="543" y="507.5" width="10"/>
<rect class="B" x="555" y="468.5" width="6"/><rect class="P" x="563" y="458.5" width="8"/><rect class="PL" x="573" y="457" width="15"/><rect class="PL" x="573" y="460.5" width="15"/><rect class="G" x="563" y="468.5" width="8"/><rect class="G" x="573" y="464" width="14"/><rect class="G" x="573" y="467.5" width="14"/><rect class="G" x="573" y="471" width="14"/><rect class="G" x="573" y="474.5" width="14"/><rect class="G" x="589" y="467.5" width="11"/><rect class="G" x="589" y="471" width="11"/><rect class="R" x="563" y="478.5" width="3.5"/><rect class="RL" x="568" y="478" width="6"/><rect class="RL" x="568" y="481.5" width="6"/>
<rect class="B" x="555" y="496.5" width="6"/><rect class="P" x="563" y="485.5" width="9"/><rect class="PL" x="574" y="484.5" width="7"/><rect class="PL" x="574" y="488" width="7"/><rect class="G" x="563" y="496.5" width="9"/><rect class="G" x="575" y="491.5" width="15"/><rect class="G" x="575" y="495" width="15"/><rect class="G" x="575" y="498.5" width="15"/><rect class="G" x="575" y="502" width="15"/><rect class="G" x="592" y="494.5" width="11"/><rect class="G" x="592" y="498" width="11"/><rect class="R" x="563" y="505.5" width="4"/><rect class="RL" x="569" y="504.5" width="6"/><rect class="RL" x="569" y="508" width="6"/>
<rect class="B" x="555" y="524.5" width="6"/><rect class="P" x="563" y="513.5" width="9"/><rect class="PL" x="573" y="512.5" width="24"/><rect class="PL" x="573" y="516" width="24"/><rect class="G" x="563" y="524.5" width="9"/><rect class="G" x="574" y="519.5" width="16"/><rect class="G" x="574" y="523" width="16"/><rect class="G" x="574" y="526.5" width="16"/><rect class="G" x="591" y="521.5" width="11"/><rect class="G" x="591" y="525" width="11"/><rect class="R" x="563" y="532.5" width="3.5"/><rect class="RL" x="568" y="532.5" width="14"/>
<rect class="B" x="555" y="539.5" width="8"/><rect class="B" x="568" y="538" width="12"/><rect class="B" x="568" y="541.5" width="12"/><rect class="B" x="557" y="547.5" width="15"/><rect class="B" x="573" y="547.5" width="16"/><rect class="B" x="590" y="545.5" width="20"/><rect class="B" x="590" y="549" width="20"/><rect class="B" x="562" y="555" width="13"/><rect class="B" x="562" y="558.5" width="13"/></g>
<g id="bB3c"><rect class="B" x="540" y="595.5" width="8"/>
<rect class="DG" x="613" y="527.5" width="9"/><rect class="DG" x="613" y="531.5" width="14"/><rect class="G" x="607" y="530.5" width="5"/>
<rect class="B" x="550" y="561.5" width="10"/><rect class="B" x="562" y="561.5" width="13"/><rect class="B" x="562" y="565" width="16"/>
<rect class="B" x="550" y="569.5" width="8"/><rect class="GM" x="562" y="569.5" width="13"/><rect class="G" x="583" y="567.5" width="17"/><rect class="G" x="583" y="571.5" width="17"/>
<rect class="G" x="587" y="575.5" width="11"/><rect class="G" x="587" y="579.5" width="13"/><rect class="GM" x="612" y="575.5" width="10"/><rect class="GM" x="610" y="579.5" width="10"/><rect class="GM" x="632" y="575.5" width="8"/>
<rect class="G" x="573" y="583.5" width="20"/>
<rect class="B" x="617" y="588.5" width="8"/><rect class="B" x="628" y="583.5" width="10"/><rect class="B" x="628" y="587" width="10"/><rect class="B" x="628" y="590.5" width="10"/><rect class="B" x="628" y="594" width="10"/><rect class="B" x="628" y="597.5" width="10"/><rect class="B" x="628" y="601" width="10"/><rect class="B" x="628" y="604.5" width="10"/><rect class="B" x="628" y="608" width="10"/><rect class="B" x="628" y="611.5" width="10"/><rect class="B" x="630" y="615" width="17"/>
<rect class="B" x="587" y="595.5" width="8"/><rect class="B" x="600" y="595.5" width="15"/>
<rect class="B" x="568" y="603.5" width="19"/>
<rect class="B" x="587" y="612.5" width="8"/><rect class="B" x="600" y="612.5" width="12"/><rect class="B" x="610" y="619.5" width="8"/><rect class="B" x="619" y="619.5" width="9"/>
<rect class="B" x="558" y="613.5" width="7"/><rect class="B" x="558" y="628.5" width="7"/>
<rect class="B" x="580" y="621.5" width="8"/><rect class="B" x="580" y="625" width="8"/><rect class="B" x="568" y="630.5" width="7"/><rect class="B" x="577" y="630.5" width="6"/><rect class="B" x="587" y="627.5" width="8"/><rect class="B" x="587" y="634.5" width="23"/><rect class="B" x="568" y="635.5" width="7"/><rect class="B" x="567" y="640.5" width="10"/><rect class="B" x="580" y="638" width="10"/><rect class="B" x="580" y="642" width="10"/><rect class="B" x="567" y="645.5" width="8"/></g>
</g>
</svg>
